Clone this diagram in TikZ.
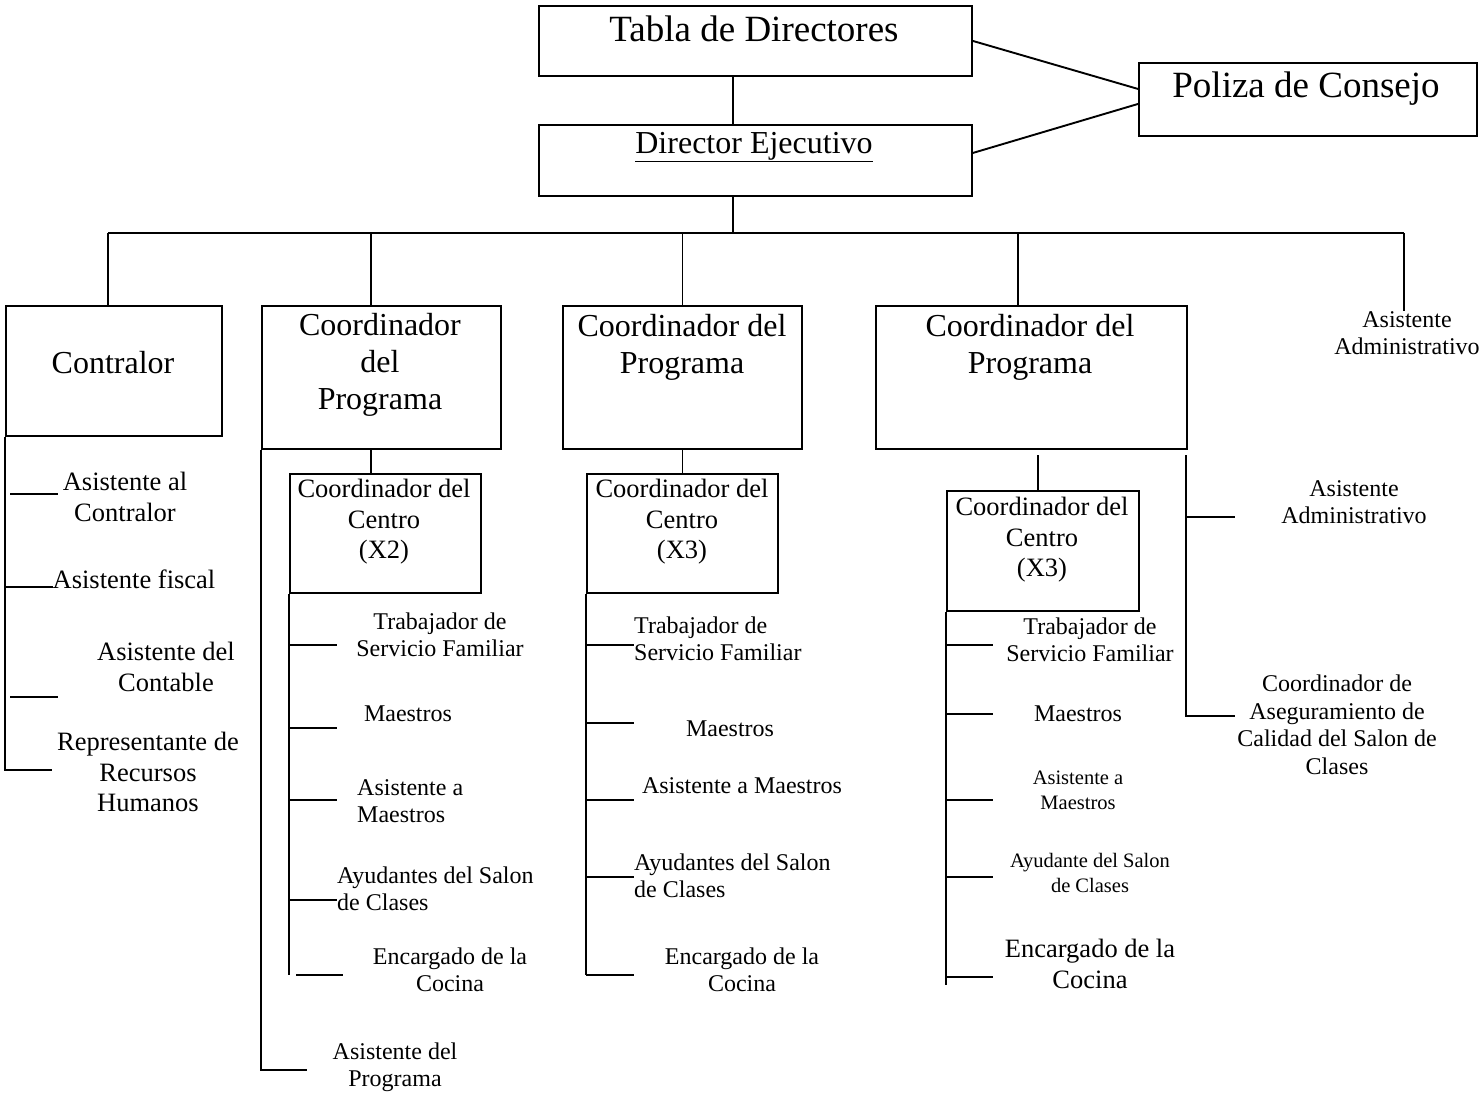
\documentclass[tikz,border=0pt]{standalone}
\usepackage{fontspec}
\setmainfont{Liberation Serif}
\begin{document}
\begin{tikzpicture}[x=1pt,y=-1pt,
  ln/.style={line width=1.9pt},
  bx/.style={draw, line width=1.9pt, anchor=north west, inner sep=0pt},
  xs/.style={font=\fontsize{20.5}{25}\selectfont, align=center, inner sep=0pt},
  sm/.style={font=\fontsize{24}{27.5}\selectfont, align=center, inner sep=0pt},
  md/.style={font=\fontsize{26.5}{30.5}\selectfont, align=center, inner sep=0pt},
  lg/.style={font=\fontsize{32}{37}\selectfont, align=center, inner sep=0pt},
  xl/.style={font=\fontsize{37}{42}\selectfont, align=center, inner sep=0pt},
  lft/.style={align=left, anchor=west}]
\useasboundingbox (0,0) rectangle (1479,1094);

% boxes
\node[bx, minimum width=433pt, minimum height=70pt] (tabla) at (538,5) {};
\node[bx, minimum width=433pt, minimum height=71pt] (dir) at (538,124) {};
\node[bx, minimum width=338pt, minimum height=73pt] (poliza) at (1138,62) {};
\node[bx, minimum width=216pt, minimum height=130pt] (contralor) at (5,305) {};
\node[bx, minimum width=239pt, minimum height=143pt] (prog1) at (261,305) {};
\node[bx, minimum width=239pt, minimum height=143pt] (prog2) at (562,305) {};
\node[bx, minimum width=311pt, minimum height=143pt] (prog3) at (875,305) {};
\node[bx, minimum width=191pt, minimum height=119pt] (centro1) at (289,473) {};
\node[bx, minimum width=191pt, minimum height=119pt] (centro2) at (586,473) {};
\node[bx, minimum width=192pt, minimum height=120pt] (centro3) at (946,490) {};

% box texts
\node[xl] (tTabla) at (754,29) {Tabla de Directores};
\node[lg] (tDir) at (754,147) {\underline{Director Ejecutivo}};
\node[xl] (tPoliza) at (1306,89) {Poliza de Consejo};
\node[lg] (tContralor) at (113,363) {Contralor};
\node[lg] (tProg1) at (380,365) {Coordinador\\del\\Programa};
\node[lg] (tProg2) at (682,347) {Coordinador del\\Programa};
\node[lg] (tProg3) at (1030,347) {Coordinador del\\Programa};
\node[md] (tCentro1) at (384,522) {Coordinador del\\Centro\\(X2)};
\node[md] (tCentro2) at (682,522) {Coordinador del\\Centro\\(X3)};
\node[md] (tCentro3) at (1042,540) {Coordinador del\\Centro\\(X3)};

% top connectors
\coordinate (t1) at (733,233);
\draw[ln] (tabla.south -| t1) -- (dir.north -| t1);
\draw[ln] (dir.south -| t1) -- (t1);
\draw[ln] (tabla.east) -- ([yshift=10.5pt]poliza.west);
\draw[ln] ([yshift=7.5pt]dir.east) -- ([yshift=-4.5pt]poliza.west);

% bus
\coordinate (bl) at (108,233);
\coordinate (br) at (1404,233);
\coordinate (d1) at (371,233);
\coordinate (d3) at (1018,233);
\draw[ln] (bl) -- (br);
\draw[ln] (bl) -- (bl |- contralor.north);
\draw[ln] (d1) -- (d1 |- prog1.north);
\draw[ln] (prog2.north |- bl) -- (prog2.north);
\draw[ln] (d3) -- (d3 |- prog3.north);
\node[sm] (asadm1) at (1407,333) {Asistente\\Administrativo};
\draw[ln] (br) -- (br |- asadm1.north);

% Contralor branch
\coordinate (cs) at (5,770);
\draw[ln] (contralor.south west) -- (cs) -- ++(47,0);
\draw[ln] (10,494) -- ++(48,0);
\draw[ln] (5,587) -- ++(48,0);
\draw[ln] (10,697) -- ++(48,0);
\node[md] (c1) at (125,497) {Asistente al\\Contralor};
\node[md] (c2) at (134,579) {Asistente fiscal};
\node[md] (c3) at (166,667) {Asistente del\\Contable};
\node[md] (c4) at (148,772) {Representante de\\Recursos\\Humanos};

% Program 1
\coordinate (p1s) at (261,1070);
\draw[ln] (prog1.south west) -- (p1s) -- ++(46,0);
\node[sm] (ap1) at (395,1067) {Asistente del\\Programa};
\draw[ln] (prog1.south -| d1) -- (centro1.north -| d1);
\coordinate (c1s) at (289,975);
\draw[ln] (centro1.south west) -- (c1s);
\foreach \y in {645,728,800,900} \draw[ln] (289,\y) -- ++(48,0);
\draw[ln] (296,975) -- ++(47,0);
\node[sm] at (440,635) {Trabajador de\\Servicio Familiar};
\node[sm] at (408,714) {Maestros};
\node[sm, lft] at (357,801) {Asistente a\\Maestros};
\node[sm, lft] at (337,889) {Ayudantes del Salon\\de Clases};
\node[sm] at (450,970) {Encargado de la\\Cocina};

% Program 2
\draw[ln] (prog2.south) -- (centro2.north);
\coordinate (c2s) at (586,975);
\draw[ln] (centro2.south west) -- (c2s);
\foreach \y in {645,723,800,877,975} \draw[ln] (586,\y) -- ++(48,0);
\node[sm, lft] at (634,639) {Trabajador de\\Servicio Familiar};
\node[sm] at (730,729) {Maestros};
\node[sm] at (742,786) {Asistente a Maestros};
\node[sm, lft] at (634,876) {Ayudantes del Salon\\de Clases};
\node[sm] at (742,970) {Encargado de la\\Cocina};

% Program 3
\coordinate (p3c) at (1038,455);
\draw[ln] (p3c) -- (centro3.north -| p3c);
\coordinate (c3s) at (946,985);
\draw[ln] (centro3.south west) -- (c3s);
\foreach \y in {645,714,800,877,977} \draw[ln] (946,\y) -- ++(47,0);
\node[sm] at (1090,640) {Trabajador de\\Servicio Familiar};
\node[sm] at (1078,714) {Maestros};
\node[xs] at (1078,790) {Asistente a\\Maestros};
\node[xs] at (1090,873) {Ayudante del Salon\\de Clases};
\node[md] at (1090,964) {Encargado de la\\Cocina};

% right branch
\coordinate (rs) at (1186,455);
\coordinate (re) at (1186,716);
\draw[ln] (rs) -- (re) -- ++(49,0);
\draw[ln] (1186,517) -- ++(49,0);
\node[sm] at (1354,502) {Asistente\\Administrativo};
\node[sm] at (1337,725) {Coordinador de\\Aseguramiento de\\Calidad del Salon de\\Clases};
\end{tikzpicture}
\end{document}
